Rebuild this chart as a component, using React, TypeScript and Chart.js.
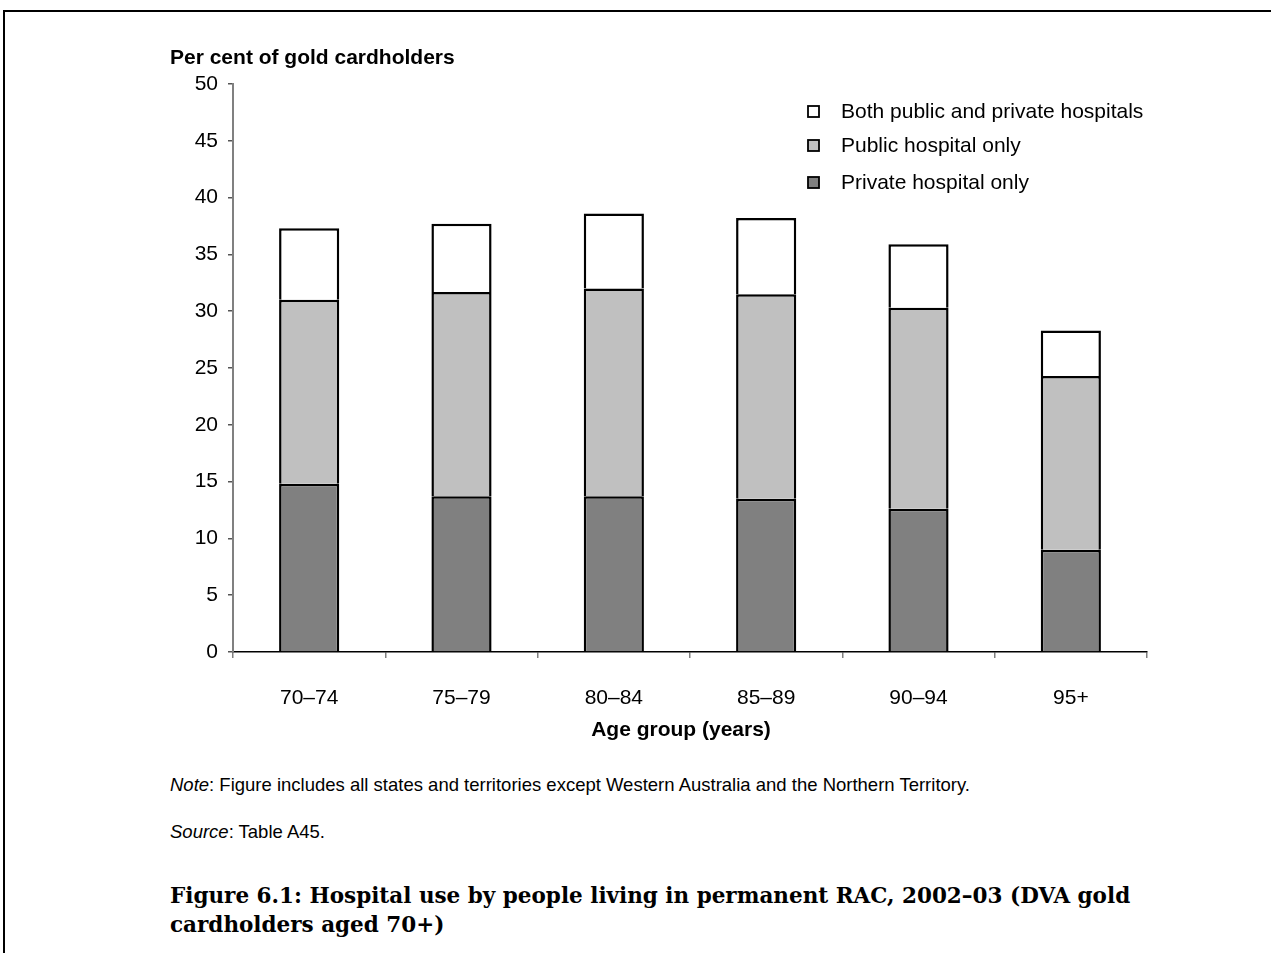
import React, { useEffect, useRef } from "react";
import { Chart, registerables } from "chart.js";

Chart.register(...registerables);

const categories = ["70–74", "75–79", "80–84", "85–89", "90–94", "95+"];
const privateOnly = [14.8, 13.7, 13.7, 13.5, 12.6, 9.0];
const publicOnly = [16.2, 18.0, 18.3, 18.0, 17.7, 15.3];
const bothTypes = [6.3, 6.0, 6.6, 6.7, 5.6, 4.0];
const seriesLabels = [
  "Private hospital only",
  "Public hospital only",
  "Both public and private hospitals",
];
const yTitle = "Per cent of gold cardholders";
const xTitle = "Age group (years)";

const SANS = "'Liberation Sans', Arial, sans-serif";

const overlayPlugin = {
  id: "overlay",
  afterDraw(chart: any) {
    const ctx = chart.ctx;
    const area = chart.chartArea;
    ctx.save();
    // y title
    ctx.fillStyle = "#000";
    ctx.font = "bold 21px " + SANS;
    ctx.textAlign = "left";
    ctx.textBaseline = "middle";
    ctx.fillText(yTitle, area.left - 63, area.top - 26);
    // x title
    ctx.font = "bold 21px " + SANS;
    ctx.textAlign = "center";
    ctx.fillText(xTitle, (area.left + area.right) / 2 - 9, area.bottom + 78);
    // legend (reverse order)
    const ds = chart.data.datasets;
    const rows = [112, 146, 183];
    ctx.font = "21px " + SANS;
    ctx.textAlign = "left";
    for (let i = 0; i < ds.length; i++) {
      const d = ds[ds.length - 1 - i];
      const y = rows[i];
      ctx.fillStyle = d.backgroundColor;
      ctx.fillRect(808, y - 6, 11, 11);
      ctx.strokeStyle = "#000";
      ctx.lineWidth = 1.8;
      ctx.strokeRect(808, y - 6, 11, 11);
      ctx.fillStyle = "#000";
      ctx.fillText(d.label, 841, y);
    }
    ctx.restore();
  },
};

export default function App() {
  const ref = useRef<HTMLCanvasElement | null>(null);

  useEffect(() => {
    document.body.style.margin = "0";
    const canvas = ref.current;
    if (!canvas) return;
    const chart = new Chart(canvas, {
      type: "bar",
      data: {
        labels: categories,
        datasets: [
          {
            label: seriesLabels[0],
            data: privateOnly,
            backgroundColor: "#808080",
            borderColor: "#000",
            borderWidth: 2.5,
          },
          {
            label: seriesLabels[1],
            data: publicOnly,
            backgroundColor: "#c0c0c0",
            borderColor: "#000",
            borderWidth: 2.5,
          },
          {
            label: seriesLabels[2],
            data: bothTypes,
            backgroundColor: "#ffffff",
            borderColor: "#000",
            borderWidth: 2.5,
          },
        ] as any,
      },
      options: {
        responsive: false,
        animation: false,
        layout: { padding: { top: 84, right: 125, left: 0, bottom: 0 } },
        plugins: {
          legend: { display: false },
          tooltip: { enabled: false },
          title: { display: false },
        },
        datasets: {
          bar: { categoryPercentage: 1, barPercentage: 0.395, inflateAmount: 0 },
        },
        scales: {
          x: {
            stacked: true,
            grid: {
              offset: true,
              drawOnChartArea: false,
              drawTicks: true,
              tickLength: 6,
              color: "#808080",
              lineWidth: 1.5,
            },
            border: { display: true, color: "#000", width: 1.5 },
            ticks: {
              color: "#000",
              font: { family: SANS, size: 21 },
              padding: 28,
              maxRotation: 0,
            },
            afterFit(s: any) {
              s.height = 108;
            },
          },
          y: {
            stacked: true,
            min: 0,
            max: 50,
            grid: {
              drawOnChartArea: false,
              drawTicks: true,
              tickLength: 5,
              color: "#555",
              lineWidth: 1.5,
            },
            border: { display: true, color: "#808080", width: 2 },
            ticks: {
              stepSize: 5,
              color: "#000",
              font: { family: SANS, size: 21 },
              padding: 10,
            },
            afterFit(s: any) {
              s.width = 233;
            },
          },
        },
      } as any,
      plugins: [overlayPlugin],
    });
    return () => chart.destroy();
  }, []);

  return (
    <div
      style={{
        position: "fixed",
        left: 0,
        top: 0,
        width: 1272,
        height: 953,
        background: "#fff",
        overflow: "hidden",
      }}
    >
      <div style={{ position: "absolute", left: 3, top: 10, width: 1268, height: 2, background: "#000" }} />
      <div style={{ position: "absolute", left: 3, top: 10, width: 2, height: 943, background: "#000" }} />
      <canvas
        ref={ref}
        width={1272}
        height={760}
        style={{ position: "absolute", left: 0, top: 0, width: 1272, height: 760 }}
      />
      <div
        style={{
          position: "absolute",
          left: 170,
          top: 774,
          fontFamily: SANS,
          fontSize: 18.5,
          lineHeight: "22px",
          whiteSpace: "nowrap",
        }}
      >
        <i>Note</i>: Figure includes all states and territories except Western Australia and the Northern Territory.
      </div>
      <div
        style={{
          position: "absolute",
          left: 170,
          top: 821,
          fontFamily: SANS,
          fontSize: 18.5,
          lineHeight: "22px",
          whiteSpace: "nowrap",
        }}
      >
        <i>Source</i>: Table A45.
      </div>
      <div
        style={{
          position: "absolute",
          left: 170,
          top: 881,
          width: 1050,
          fontFamily: "'DejaVu Serif', serif",
          fontWeight: "bold",
          fontSize: 21.5,
          lineHeight: "29px",
          whiteSpace: "nowrap",
        }}
      >
        Figure 6.1: Hospital use by people living in permanent RAC, 2002–03 (DVA gold
        <br />
        cardholders aged 70+)
      </div>
    </div>
  );
}
